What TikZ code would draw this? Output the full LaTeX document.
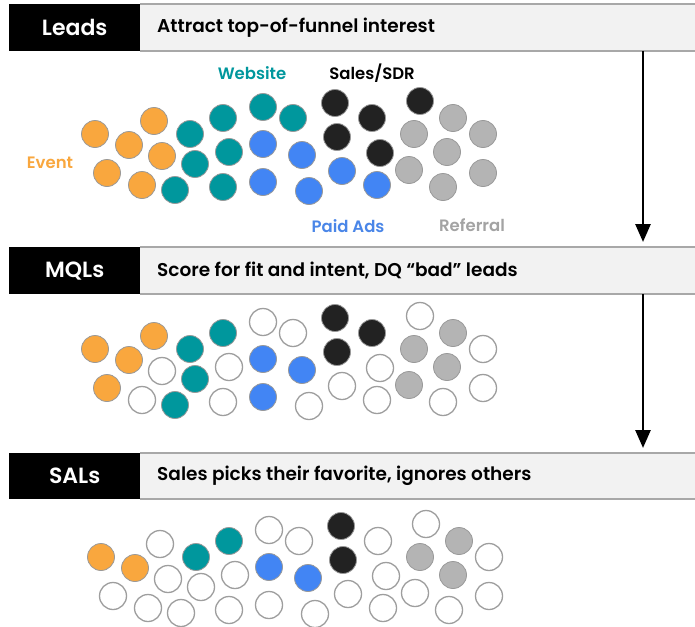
\documentclass[tikz,border=0pt]{standalone}
\usepackage{fontspec}
\setmainfont{Poppins}[BoldFont={Poppins SemiBold}]
\usetikzlibrary{arrows.meta}
\definecolor{corange}{HTML}{F9A73E}
\definecolor{cteal}{HTML}{00979D}
\definecolor{cblue}{HTML}{4285F4}
\definecolor{cblack}{HTML}{222222}
\definecolor{cgray}{HTML}{B4B4B4}
\definecolor{lorange}{HTML}{F9A73E}
\definecolor{lteal}{HTML}{00979D}
\definecolor{lblue}{HTML}{4A86E8}
\definecolor{lgray}{HTML}{A3A3A3}
\definecolor{barfill}{HTML}{F2F2F2}
\definecolor{barline}{HTML}{A8A8A8}
\def\whitename{white}
\begin{document}
\begin{tikzpicture}[x=1pt,y=-1pt,
  dot/.style={circle,minimum size=27pt,inner sep=0pt,draw=black!40,line width=0.8pt},
  wdot/.style={dot,fill=white,draw=black!38,line width=1.3pt},
  stagebox/.style={fill=black,draw=none,text=white,font=\bfseries\fontsize{22}{22}\selectfont,inner sep=0pt},
  desctext/.style={anchor=west,font=\bfseries\fontsize{18.5}{18.5}\selectfont,inner sep=0pt},
  srclabel/.style={font=\bfseries\fontsize{16.5}{16.5}\selectfont,inner sep=0pt},
  flow/.style={line width=2.7pt,-{Triangle[length=18pt,width=15pt]}}
]
\useasboundingbox (0,0) rectangle (695,626);
\fill[white] (0,0) rectangle (695,626);

% ---------- headers ----------
\foreach \k/\ya/\yb/\name/\desc in {
  1/4/51/Leads/{Attract top-of-funnel interest},
  2/247/294/MQLs/{Score for fit and intent, DQ “bad” leads},
  3/453/499/SALs/{Sales picks their favorite, ignores others}}{
  \fill[barfill] (140,\ya) rectangle (695,\yb);
  \draw[barline,line width=1.4pt] (140,\ya) -- (695,\ya);
  \draw[barline,line width=1.4pt] (140,\yb) -- (695,\yb);
  \node[stagebox,minimum width=131pt,minimum height={\yb-\ya},anchor=north west] (stage\k) at (9,\ya) {\name};
  \node[desctext] (desc\k) at (157,{(\ya+\yb)/2}) {\desc};
  \coordinate (top\k) at (643,\ya);
  \coordinate (bot\k) at (643,\yb);
}

% ---------- panel 1 ----------
\foreach \n/\px/\py/\c in {
 1/95/134/corange, 2/129/145/corange, 3/154/121/corange, 4/162/156/corange,
 5/107/173/corange, 6/142/185/corange, 7/190/134/cteal, 8/195/164/cteal,
 9/175/190/cteal, 10/223/118/cteal, 11/229/152/cteal, 12/223/187/cteal,
 13/263/107/cteal, 14/293/118/cteal, 15/263/144/cblue, 16/263/182/cblue,
 17/302/155/cblue, 18/309/191/cblue, 19/335/103/cblack, 20/372/118/cblack,
 21/337/137/cblack, 22/380/153/cblack, 23/342/171/cblue, 24/377/185/cblue,
 25/420/101/cblack, 26/453/118/cgray, 27/414/134/cgray, 28/483/134/cgray,
 29/447/152/cgray, 30/409/170/cgray, 31/483/173/cgray, 32/443/187/cgray}{
  \node[dot,fill=\c] (a\n) at (\px,\py) {};
}
\node[srclabel,text=lteal] (lweb) at (252,73) {Website};
\node[srclabel,text=black] (lsdr) at (372,73) {Sales/SDR};
\node[srclabel,text=lorange] (levt) at (50,163) {Event};
\node[srclabel,text=lblue] (lads) at (348,226) {Paid Ads};
\node[srclabel,text=lgray] (lref) at (472,225) {Referral};

% ---------- panel 2 ----------
\foreach \n/\px/\py/\c in {
 1/95/134/corange, 2/129/145/corange, 3/154/121/corange, 4/162/156/white,
 5/107/173/corange, 6/142/185/white, 7/190/134/cteal, 8/195/164/cteal,
 9/175/190/cteal, 10/223/118/cteal, 11/229/152/white, 12/223/187/white,
 13/263/107/white, 14/293/118/white, 15/263/144/cblue, 16/263/182/cblue,
 17/302/155/cblue, 18/309/191/white, 19/335/103/cblack, 20/372/118/cblack,
 21/337/137/cblack, 22/380/153/white, 23/342/171/white, 24/377/185/white,
 25/420/101/white, 26/453/118/cgray, 27/414/134/cgray, 28/483/134/white,
 29/447/152/cgray, 30/409/170/cgray, 31/483/173/white, 32/443/187/white}{
  \ifx\c\whitename
    \node[wdot] (b\n) at (\px,\py+215) {};
  \else
    \node[dot,fill=\c] (b\n) at (\px,\py+215) {};
  \fi
}

% ---------- panel 3 ----------
\foreach \n/\px/\py/\c in {
 1/95/134/corange, 2/129/145/corange, 3/154/121/white, 4/162/156/white,
 5/107/173/white, 6/142/185/white, 7/190/134/cteal, 8/195/164/white,
 9/175/190/white, 10/223/118/cteal, 11/229/152/white, 12/223/187/white,
 13/263/107/white, 14/293/118/white, 15/263/144/cblue, 16/263/182/white,
 17/302/155/cblue, 18/309/191/white, 19/335/103/cblack, 20/372/118/white,
 21/337/137/cblack, 22/380/153/white, 23/342/171/white, 24/377/185/white,
 25/420/101/white, 26/453/118/cgray, 27/414/134/cgray, 28/483/134/white,
 29/447/152/cgray, 30/409/170/white, 31/483/173/white, 32/443/187/white}{
  \ifx\c\whitename
    \node[wdot] (c\n) at (\px+6,\py+423) {};
  \else
    \node[dot,fill=\c] (c\n) at (\px+6,\py+423) {};
  \fi
}

% ---------- arrows ----------
\coordinate (tip1) at (643,242);
\coordinate (tip2) at (643,448);
\draw[flow] (bot1) -- (tip1);
\draw[flow] (bot2) -- (tip2);
\end{tikzpicture}
\end{document}
